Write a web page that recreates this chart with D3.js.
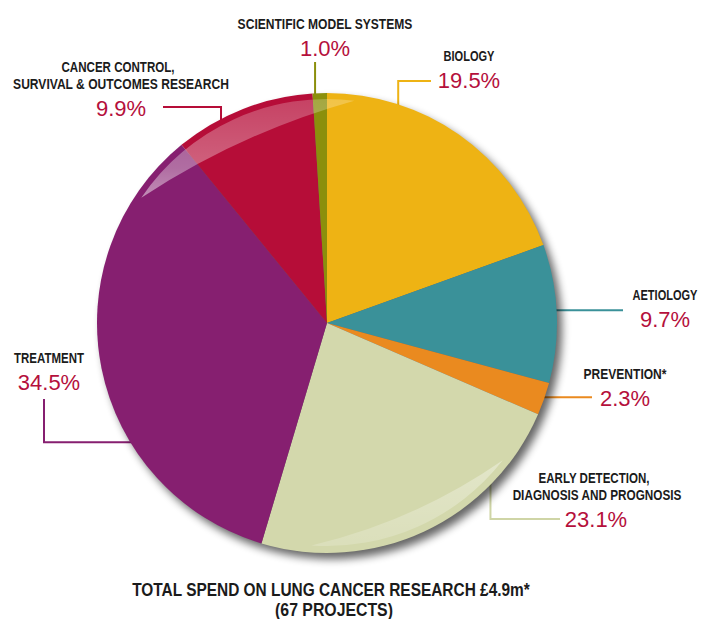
<!DOCTYPE html>
<html>
<head>
<meta charset="utf-8">
<script src="https://cdn.jsdelivr.net/npm/d3@7/dist/d3.min.js"></script>
<style>
  html, body { margin: 0; padding: 0; background: #ffffff; }
  svg { display: block; }
</style>
</head>
<body>
<svg id="chart" width="701" height="619"></svg>
<script>
// Lung cancer research spend by research area (share of total, %)
const categories = [
  "Biology",
  "Aetiology",
  "Prevention",
  "Early detection, diagnosis and prognosis",
  "Treatment",
  "Cancer control, survival & outcomes research",
  "Scientific model systems"
];
const labelLines = [
  ["BIOLOGY"],
  ["AETIOLOGY"],
  ["PREVENTION*"],
  ["EARLY DETECTION,", "DIAGNOSIS AND PROGNOSIS"],
  ["TREATMENT"],
  ["CANCER CONTROL,", "SURVIVAL & OUTCOMES RESEARCH"],
  ["SCIENTIFIC MODEL SYSTEMS"]
];
const shares = [19.5, 9.7, 2.3, 23.1, 34.5, 9.9, 1.0];
const sliceColors = ["#EEB314", "#3A9199", "#EA8A1F", "#D3D8AC", "#861F70", "#B60D38", "#8B8F0C"];
const leaderColors = ["#EEB314", "#3A9199", "#EA8A1F", "#CFD5A6", "#861F70", "#B60D38", "#8B8F0C"];
const titleLines = ["TOTAL SPEND ON LUNG CANCER RESEARCH £4.9m*", "(67 PROJECTS)"];

// Label placement: where the leader leaves the rim (degrees clockwise from 12 o'clock),
// its legs ("v" = vertical to y, "h" = horizontal to x), where the text block sits,
// and the set width of each condensed label line.
const labelLayout = [
  { angle: 18.2,  legs: [["v", 81], ["h", 431]],  x: 469, y: 61,  widths: [51] },
  { angle: 86.8,  legs: [["h", 623]],             x: 665, y: 300, widths: [65] },
  { angle: 109.0, legs: [["h", 592]],             x: 625, y: 379, widths: [83] },
  { angle: 134.2, legs: [["v", 519], ["h", 560]], x: 596, y: 483, widths: [111, 169], lineX: [594, 597] },
  { angle: 238.5, legs: [["h", 44], ["v", 399]],  x: 49,  y: 363, widths: [70] },
  { angle: -27.7, legs: [["v", 107], ["h", 163]], x: 120, y: 72,  widths: [113, 216], lineX: [118, 121], pctX: 121 },
  { angle: -3.0,  legs: [["v", 62]],              x: 325, y: 29,  widths: [175] }
];
const titleWidths = [398, 118];

const svg = d3.select("#chart");
const cx = 327, cy = 323, r = 230;
const labelFont = "'Liberation Sans', Arial, sans-serif";
const pctFont = "'Liberation Sans', Arial, sans-serif";

const defs = svg.append("defs");

// soft drop shadow beneath the pie
const shadow = defs.append("filter").attr("id", "pieShadow")
  .attr("x", "-20%").attr("y", "-20%").attr("width", "140%").attr("height", "140%");
shadow.append("feGaussianBlur").attr("in", "SourceAlpha").attr("stdDeviation", 4);

// gloss gradients
const gTop = defs.append("linearGradient").attr("id", "glossTop")
  .attr("x1", 0).attr("y1", 0).attr("x2", 0).attr("y2", 1);
gTop.append("stop").attr("offset", "0%").attr("stop-color", "#fff").attr("stop-opacity", 0.22);
gTop.append("stop").attr("offset", "70%").attr("stop-color", "#fff").attr("stop-opacity", 0.35);
gTop.append("stop").attr("offset", "100%").attr("stop-color", "#fff").attr("stop-opacity", 0.5);

const gBot = defs.append("linearGradient").attr("id", "glossBottom")
  .attr("x1", 0).attr("y1", 0).attr("x2", 0).attr("y2", 1);
gBot.append("stop").attr("offset", "0%").attr("stop-color", "#fff").attr("stop-opacity", 0.35);
gBot.append("stop").attr("offset", "100%").attr("stop-color", "#fff").attr("stop-opacity", 0.18);

const rad = d => d * Math.PI / 180;
const rimPoint = (deg, rr) => [cx + rr * Math.sin(rad(deg)), cy - rr * Math.cos(rad(deg))];

// leader lines (drawn first so the pie rim covers their ends)
const leaders = svg.append("g").attr("fill", "none").attr("stroke-width", 2);
labelLayout.forEach((L, i) => {
  let p = rimPoint(L.angle, r - 2);
  const pts = [p];
  L.legs.forEach(([dir, v]) => {
    p = dir === "v" ? [p[0], v] : [v, p[1]];
    pts.push(p);
  });
  leaders.append("path")
    .attr("d", d3.line()(pts))
    .attr("stroke", leaderColors[i]);
});

// pie
const pie = d3.pie().sort(null).value(d => d);
const arcs = pie(shares);
const arc = d3.arc().innerRadius(0).outerRadius(r);

const pieG = svg.append("g").attr("transform", `translate(${cx},${cy})`);

pieG.append("circle")
  .attr("cx", 5).attr("cy", 6).attr("r", r)
  .attr("fill", "#000").attr("opacity", 0.6)
  .attr("filter", "url(#pieShadow)");

pieG.selectAll("path.slice")
  .data(arcs)
  .join("path")
  .attr("class", "slice")
  .attr("d", arc)
  .attr("fill", (d, i) => sliceColors[i]);

// glossy crescents along the rim
function crescent(a0, a1, rOuter, rInner) {
  const p0 = [rOuter * Math.sin(rad(a0)), -rOuter * Math.cos(rad(a0))];
  const p1 = [rOuter * Math.sin(rad(a1)), -rOuter * Math.cos(rad(a1))];
  return `M${p0[0]},${p0[1]} A${rOuter},${rOuter} 0 0 1 ${p1[0]},${p1[1]} ` +
         `A${rInner},${rInner} 0 0 0 ${p0[0]},${p0[1]} Z`;
}
pieG.append("path")
  .attr("d", crescent(-56, 7, r - 6, 760))
  .attr("fill", "url(#glossTop)");
pieG.append("path")
  .attr("d", crescent(128, 184, r - 7, 560))
  .attr("fill", "url(#glossBottom)");

// condensed bold text: natural glyphs squeezed horizontally to a set width
function condensedText(parent, str, x, y, size, width) {
  const t = parent.append("text")
    .attr("x", 0).attr("y", 0)
    .attr("text-anchor", "middle")
    .attr("font-family", labelFont)
    .attr("font-weight", "bold")
    .attr("font-size", size)
    .attr("fill", "#1b1b1b")
    .text(str);
  const natural = t.node().getComputedTextLength();
  const sx = natural > 0 ? width / natural : 1;
  t.attr("transform", `translate(${x},${y}) scale(${sx},1)`);
  return t;
}

// category labels and percentages
const labels = svg.append("g");
labelLayout.forEach((L, i) => {
  const lines = labelLines[i];
  lines.forEach((t, k) => {
    condensedText(labels, t, L.lineX ? L.lineX[k] : L.x, L.y + k * 17, 14.5, L.widths[k]);
  });
  labels.append("text")
    .attr("x", L.pctX || L.x)
    .attr("y", L.y + (lines.length - 1) * 17 + 27)
    .attr("text-anchor", "middle")
    .attr("font-family", pctFont)
    .attr("font-size", 22)
    .attr("fill", "#B5103C")
    .text(d3.format(".1f")(shares[i]) + "%");
});

// footer title
titleLines.forEach((t, k) => {
  condensedText(svg, t, 331 + k * 3, 596 + k * 20, 18, titleWidths[k]);
});
</script>
</body>
</html>
